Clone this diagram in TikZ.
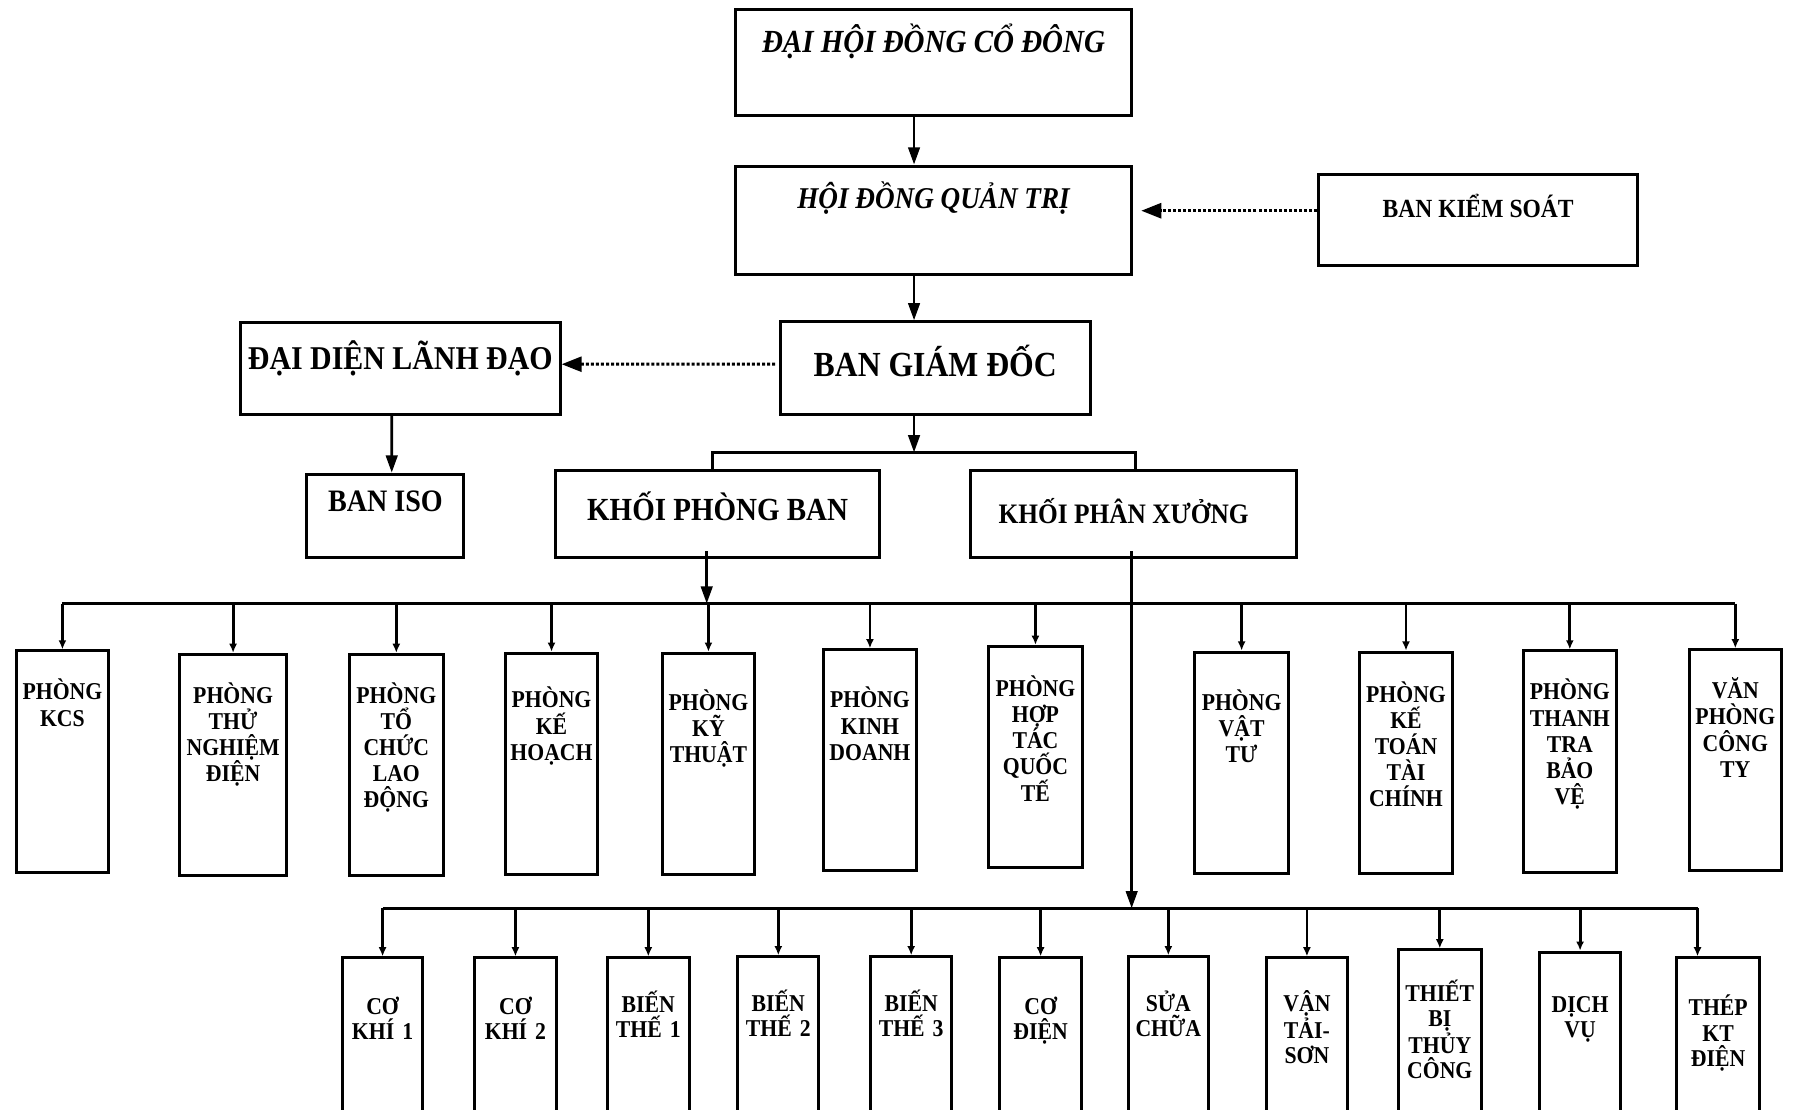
\documentclass[tikz,border=0pt]{standalone}
\usepackage{fontspec}
\setmainfont{Liberation Serif}[FakeStretch=0.9]
\usetikzlibrary{arrows.meta}

\tikzset{
  box/.style={draw, line width=1.5pt, inner sep=0pt},
  room/.style={box, minimum width=1.62cm, minimum height=3.86cm, anchor=north},
  shop/.style={box, minimum width=1.42cm, minimum height=3.4cm, anchor=north},
  htext/.style={anchor=base, inner sep=0pt},
  rtext/.style={font=\bfseries\fontsize{12}{13}\selectfont, text width=2.6cm, align=center, anchor=base, inner sep=0pt},
  stext/.style={font=\bfseries\fontsize{12}{12.5}\selectfont, text width=2.4cm, align=center, anchor=base, inner sep=0pt},
  link/.style={line width=1.4pt},
  arr/.style={link, -{Triangle[length=3mm,width=2mm]}},
  dotarr/.style={line width=1.5pt, densely dotted, -{Triangle[length=3.5mm,width=2.6mm]}},
  stem/.style={link, -{Latex[length=1.6mm,width=1.4mm]}},
}

\begin{document}
\begin{tikzpicture}
  \useasboundingbox (0,0) rectangle (31.36,19.38);
  \clip (0,0) rectangle (31.36,19.38);

  % upper levels
  \node[box, minimum width=6.92cm, minimum height=1.86cm,
    label={[htext, font=\bfseries\itshape\fontsize{16}{18}\selectfont, yshift=-0.78cm]north:ĐẠI HỘI ĐỒNG CỔ ĐÔNG}] (dhdcd) at (16.30,18.29) {};
  \node[box, minimum width=6.92cm, minimum height=1.90cm,
    label={[htext, font=\bfseries\itshape\fontsize{15}{17}\selectfont, yshift=-0.76cm]north:HỘI ĐỒNG QUẢN TRỊ}] (hdqt) at (16.30,15.53) {};
  \node[box, minimum width=5.58cm, minimum height=1.60cm,
    label={[htext, font=\bfseries\fontsize{13}{15}\selectfont, yshift=-0.78cm]north:BAN KIỂM SOÁT}] (bks) at (25.81,15.54) {};
  \node[box, minimum width=5.42cm, minimum height=1.62cm,
    label={[htext, font=\bfseries\fontsize{17.5}{19}\selectfont, yshift=-0.98cm]north:BAN GIÁM ĐỐC}] (bgd) at (16.33,12.95) {};
  \node[box, minimum width=5.58cm, minimum height=1.60cm,
    label={[htext, font=\bfseries\fontsize{16.5}{18}\selectfont, yshift=-0.84cm]north:ĐẠI DIỆN LÃNH ĐẠO}] (ddld) at (6.99,12.94) {};
  \node[box, minimum width=2.74cm, minimum height=1.46cm,
    label={[htext, font=\bfseries\fontsize{15.5}{17}\selectfont, yshift=-0.68cm]north:BAN ISO}] (iso) at (6.73,10.37) {};
  \node[box, minimum width=5.66cm, minimum height=1.52cm,
    label={[htext, font=\bfseries\fontsize{16}{18}\selectfont, yshift=-0.90cm]north:KHỐI PHÒNG BAN}] (kpb) at (12.53,10.40) {};
  \node[box, minimum width=5.70cm, minimum height=1.52cm,
    label={[htext, font=\bfseries\fontsize{14}{16}\selectfont, xshift=-0.17cm, yshift=-0.94cm]north:KHỐI PHÂN XƯỞNG}] (kpx) at (19.79,10.40) {};

  % khoi phong ban
  \node[room, label={[rtext, yshift=-0.88cm]north:{PHÒNG\\KCS}}] (kcs) at (1.09,8.04) {};
  \node[room, minimum width=1.86cm, label={[rtext, yshift=-0.88cm]north:{PHÒNG\\THỬ\\NGHIỆM\\ĐIỆN}}] (tnd) at (4.07,7.98) {};
  \node[room, minimum width=1.64cm, label={[rtext, yshift=-0.88cm]north:{PHÒNG\\TỔ\\CHỨC\\LAO\\ĐỘNG}}] (tcld) at (6.92,7.98) {};
  \node[room, label={[rtext, yshift=-0.98cm]north:{PHÒNG\\KẾ\\HOẠCH}}] (kh) at (9.63,8.00) {};
  \node[room, label={[rtext, yshift=-1.02cm]north:{PHÒNG\\KỸ\\THUẬT}}] (kt) at (12.37,8.00) {};
  \node[room, label={[rtext, yshift=-1.04cm]north:{PHÒNG\\KINH\\DOANH}}] (kd) at (15.19,8.06) {};
  \node[room, minimum width=1.64cm, label={[rtext, yshift=-0.90cm]north:{PHÒNG\\HỢP\\TÁC\\QUỐC\\TẾ}}] (htqt) at (18.08,8.12) {};
  \node[room, minimum width=1.64cm, label={[rtext, yshift=-1.04cm]north:{PHÒNG\\VẬT\\TƯ}}] (vt) at (21.68,8.02) {};
  \node[room, label={[rtext, yshift=-0.90cm]north:{PHÒNG\\KẾ\\TOÁN\\TÀI\\CHÍNH}}] (kttc) at (24.55,8.02) {};
  \node[room, label={[rtext, yshift=-0.88cm]north:{PHÒNG\\THANH\\TRA\\BẢO\\VỆ}}] (ttbv) at (27.41,8.04) {};
  \node[room, minimum width=1.60cm, label={[rtext, yshift=-0.88cm]north:{VĂN\\PHÒNG\\CÔNG\\TY}}] (vpct) at (30.30,8.06) {};

  % khoi phan xuong
  \node[shop, minimum width=1.40cm, label={[stext, yshift=-1.02cm]north:{CƠ\\KHÍ 1}}] (ck1) at (6.68,2.68) {};
  \node[shop, minimum width=1.44cm, label={[stext, yshift=-1.02cm]north:{CƠ\\KHÍ 2}}] (ck2) at (9.00,2.68) {};
  \node[shop, minimum width=1.44cm, label={[stext, yshift=-0.98cm]north:{BIẾN\\THẾ 1}}] (bt1) at (11.32,2.68) {};
  \node[shop, label={[stext, yshift=-0.98cm]north:{BIẾN\\THẾ 2}}] (bt2) at (13.59,2.70) {};
  \node[shop, label={[stext, yshift=-0.98cm]north:{BIẾN\\THẾ 3}}] (bt3) at (15.91,2.70) {};
  \node[shop, label={[stext, yshift=-1.02cm]north:{CƠ\\ĐIỆN}}] (cd) at (18.17,2.68) {};
  \node[shop, minimum width=1.40cm, label={[stext, yshift=-0.98cm]north:{SỬA\\CHỮA}}] (sc) at (20.40,2.70) {};
  \node[shop, minimum width=1.40cm, label={[stext, yshift=-0.96cm]north:{VẬN\\TẢI-\\SƠN}}] (vts) at (22.82,2.68) {};
  \node[shop, minimum width=1.44cm, label={[stext, yshift=-0.92cm]north:{THIẾT\\BỊ\\THỦY\\CÔNG}}] (tbtc) at (25.14,2.82) {};
  \node[shop, label={[stext, yshift=-1.08cm]north:{DỊCH\\VỤ}}] (dv) at (27.59,2.78) {};
  \node[shop, minimum width=1.44cm, label={[stext, yshift=-1.04cm]north:{THÉP\\KT\\ĐIỆN}}] (tktd) at (30.00,2.68) {};

  % connectors
  \draw[arr] ([xshift=-0.34cm]dhdcd.south) -- ([xshift=-0.34cm]hdqt.north);
  \draw[arr] ([xshift=-0.34cm]hdqt.south) -- ([xshift=-0.37cm]bgd.north);
  \draw[dotarr] ([yshift=0.16cm]bks.west) -- ([xshift=0.14cm,yshift=0.17cm]hdqt.east);
  \draw[dotarr] ([xshift=-0.06cm,yshift=0.07cm]bgd.west) -- ([yshift=0.08cm]ddld.east);
  \draw[arr] ([xshift=-0.15cm]ddld.south) -- ([xshift=0.11cm]iso.north);

  \coordinate (split) at (15.96,11.48);
  \draw[arr] ([xshift=-0.37cm]bgd.south) -- (split);
  \draw[link] ([xshift=-0.09cm]kpb.north) |- (split) -| ([xshift=0.03cm]kpx.north);

  \coordinate (bus1) at (12.34,8.84);
  \draw[arr] ([xshift=-0.19cm,yshift=0.14cm]kpb.south) -- (bus1);
  \draw[link] (kcs.north |- bus1) -- (vpct.north |- bus1);
  \draw[stem] (kcs.north |- bus1) -- (kcs.north);
  \draw[stem] (tnd.north |- bus1) -- (tnd.north);
  \draw[stem] (tcld.north |- bus1) -- (tcld.north);
  \draw[stem] (kh.north |- bus1) -- (kh.north);
  \draw[stem] (kt.north |- bus1) -- (kt.north);
  \draw[stem] (kd.north |- bus1) -- (kd.north);
  \draw[stem] (htqt.north |- bus1) -- (htqt.north);
  \draw[stem] (vt.north |- bus1) -- (vt.north);
  \draw[stem] (kttc.north |- bus1) -- (kttc.north);
  \draw[stem] (ttbv.north |- bus1) -- (ttbv.north);
  \draw[stem] (vpct.north |- bus1) -- (vpct.north);

  \coordinate (bus2) at (19.76,3.52);
  \coordinate (tktdin) at ([xshift=-0.36cm]tktd.north);
  \draw[arr] ([xshift=-0.03cm,yshift=0.14cm]kpx.south) -- (bus2);
  \draw[link] (ck1.north |- bus2) -- (tktdin |- bus2);
  \draw[stem] (ck1.north |- bus2) -- (ck1.north);
  \draw[stem] (ck2.north |- bus2) -- (ck2.north);
  \draw[stem] (bt1.north |- bus2) -- (bt1.north);
  \draw[stem] (bt2.north |- bus2) -- (bt2.north);
  \draw[stem] (bt3.north |- bus2) -- (bt3.north);
  \draw[stem] (cd.north |- bus2) -- (cd.north);
  \draw[stem] (sc.north |- bus2) -- (sc.north);
  \draw[stem] (vts.north |- bus2) -- (vts.north);
  \draw[stem] (tbtc.north |- bus2) -- (tbtc.north);
  \draw[stem] (dv.north |- bus2) -- (dv.north);
  \draw[stem] (tktdin |- bus2) -- (tktdin);
\end{tikzpicture}
\end{document}
